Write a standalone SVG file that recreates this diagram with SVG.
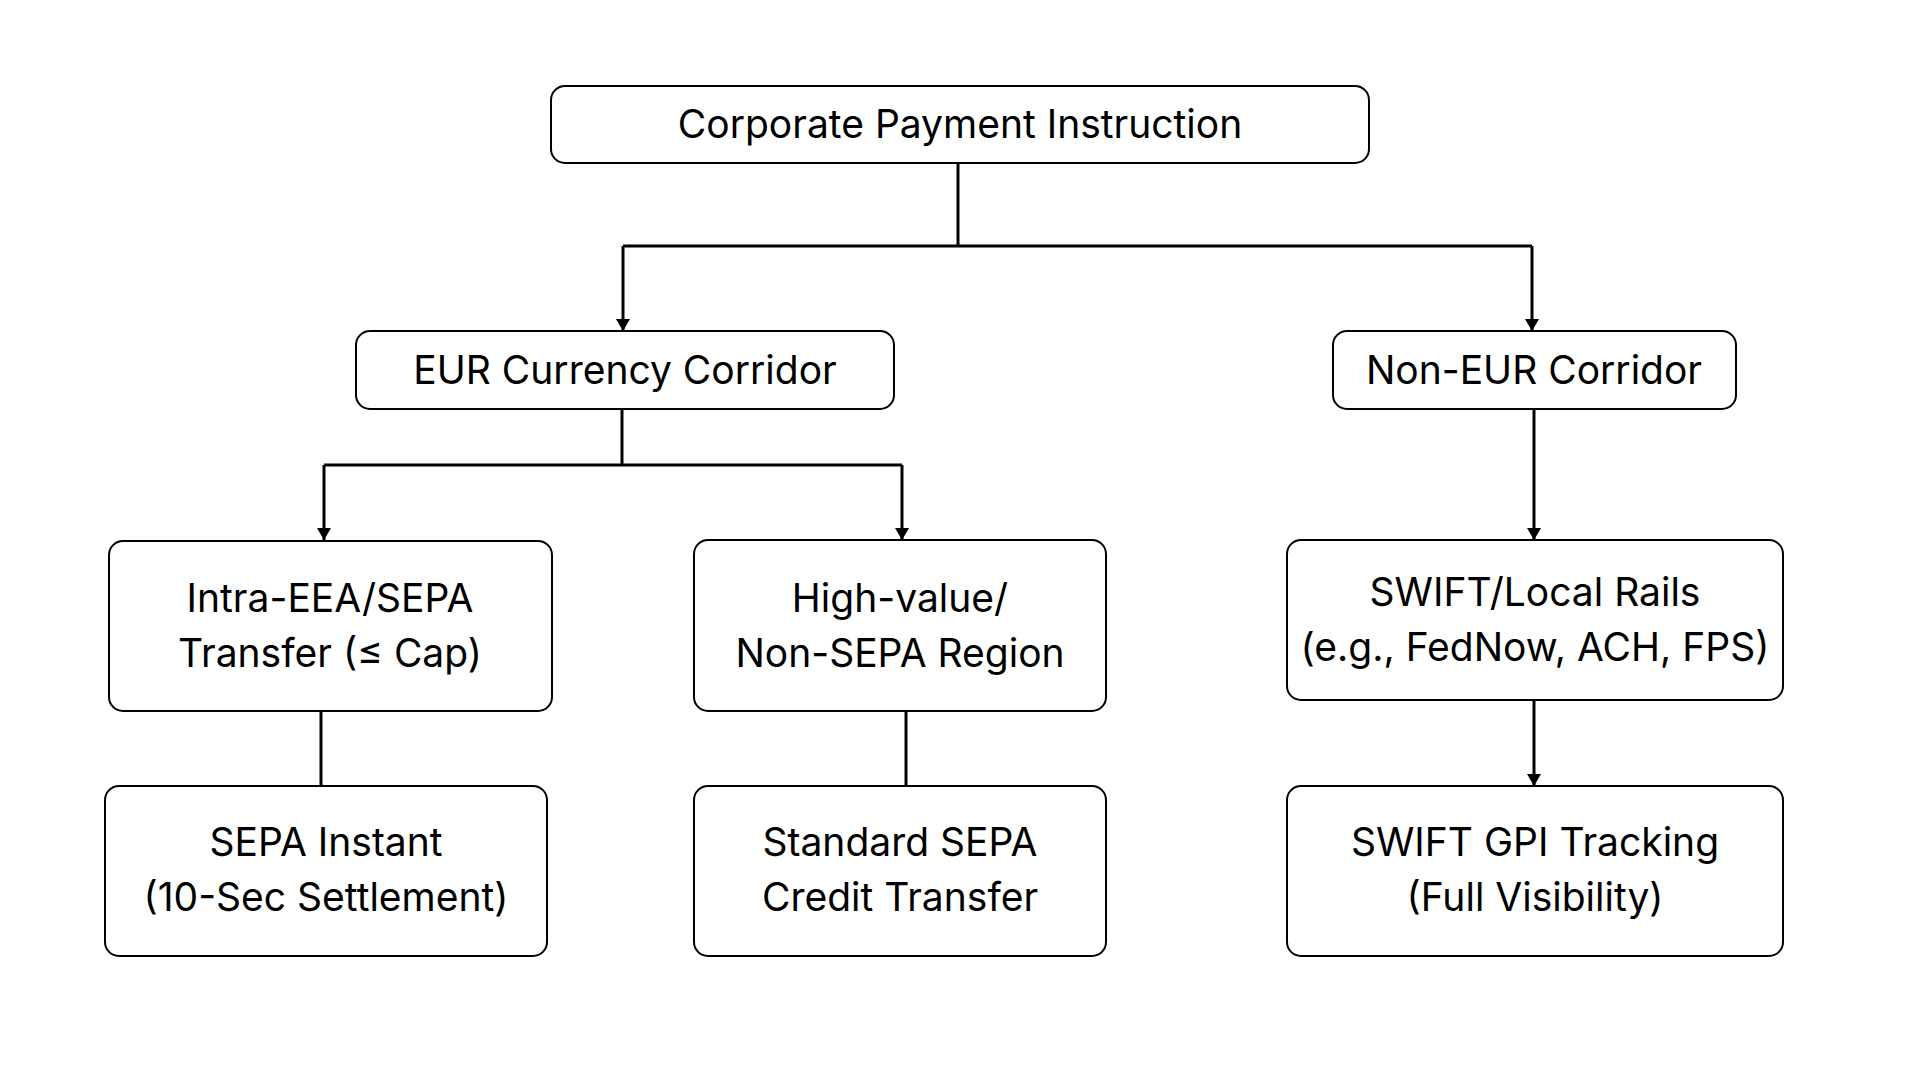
<svg xmlns="http://www.w3.org/2000/svg" width="1920" height="1080" viewBox="0 0 1920 1080">
<style>
.box{fill:#fff;stroke:#000;stroke-width:2}
.lbl{font-family:Inter,"Liberation Sans",sans-serif;font-size:39px;fill:#000;text-anchor:middle}
.con{fill:none;stroke:#000;stroke-width:3}
</style>
<defs>
<marker id="arr" viewBox="0 0 12 14" refX="12" refY="7" markerWidth="12" markerHeight="14" markerUnits="userSpaceOnUse" orient="auto">
<path d="M0 0 L12 7 L0 14 Z" fill="#000"/>
</marker>
</defs>
<rect width="1920" height="1080" fill="#fff"/>
<g id="connectors">
<path class="con" d="M958 163 V246"/>
<path class="con" d="M623 246 H1532"/>
<path class="con" d="M623 246 V331" marker-end="url(#arr)"/>
<path class="con" d="M1532 246 V331" marker-end="url(#arr)"/>
<path class="con" d="M622 409 V465"/>
<path class="con" d="M324 465 H902"/>
<path class="con" d="M324 465 V540" marker-end="url(#arr)"/>
<path class="con" d="M902 465 V540" marker-end="url(#arr)"/>
<path class="con" d="M1534 409 V540" marker-end="url(#arr)"/>
<path class="con" d="M321 711 V786"/>
<path class="con" d="M906 711 V786"/>
<path class="con" d="M1534 700 V786" marker-end="url(#arr)"/>
</g>
<g id="top"><rect class="box" x="551" y="86" width="818" height="77" rx="14"/><text class="lbl" x="960" y="138">Corporate Payment Instruction</text></g>
<g id="eur"><rect class="box" x="356" y="331" width="538" height="78" rx="14"/><text class="lbl" x="625" y="384">EUR Currency Corridor</text></g>
<g id="noneur"><rect class="box" x="1333" y="331" width="403" height="78" rx="14"/><text class="lbl" x="1534" y="384">Non-EUR Corridor</text></g>
<g id="intra"><rect class="box" x="109" y="541" width="443" height="170" rx="14"/><text class="lbl" x="330" y="612">Intra-EEA/SEPA</text><text class="lbl" x="330" y="667">Transfer (≤ Cap)</text></g>
<g id="high"><rect class="box" x="694" y="540" width="412" height="171" rx="14"/><text class="lbl" x="900" y="612">High-value/</text><text class="lbl" x="900" y="667">Non-SEPA Region</text></g>
<g id="rails"><rect class="box" x="1287" y="540" width="496" height="160" rx="14"/><text class="lbl" x="1535" y="606">SWIFT/Local Rails</text><text class="lbl" x="1535" y="661">(e.g., FedNow, ACH, FPS)</text></g>
<g id="instant"><rect class="box" x="105" y="786" width="442" height="170" rx="14"/><text class="lbl" x="326" y="856">SEPA Instant</text><text class="lbl" x="326" y="911">(10-Sec Settlement)</text></g>
<g id="standard"><rect class="box" x="694" y="786" width="412" height="170" rx="14"/><text class="lbl" x="900" y="856">Standard SEPA</text><text class="lbl" x="900" y="911">Credit Transfer</text></g>
<g id="gpi"><rect class="box" x="1287" y="786" width="496" height="170" rx="14"/><text class="lbl" x="1535" y="856">SWIFT GPI Tracking</text><text class="lbl" x="1535" y="911">(Full Visibility)</text></g>
</svg>
